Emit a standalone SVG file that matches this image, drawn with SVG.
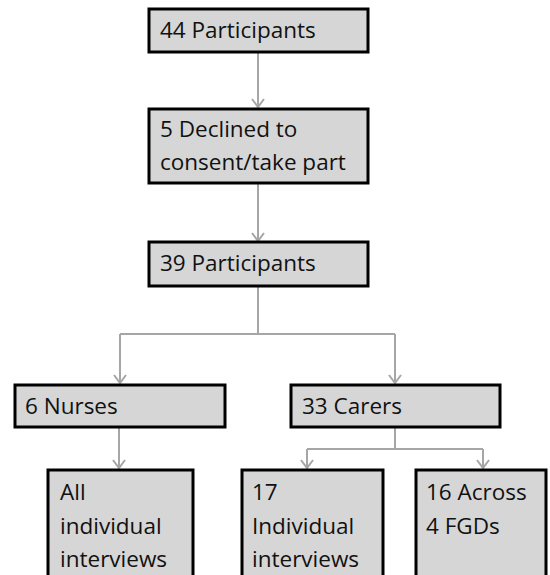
<svg xmlns="http://www.w3.org/2000/svg" width="550" height="575" viewBox="0 0 550 575">
<style>
.box{fill:#d6d6d6;stroke:#000;stroke-width:3}
.t{font-family:"Open Sans","Noto Sans",sans-serif;font-size:22.5px;fill:#111}
.c{fill:none;stroke:#a6a6a6;stroke-width:2}
</style>
<rect width="550" height="575" fill="#fff"/>
<g id="connectors" class="c">
<path d="M258,52 V107 M252,99 L258,107 L264,99"/>
<path d="M258,183 V241 M252,233 L258,241 L264,233"/>
<path d="M258,286 V334 M120,334 H395"/>
<path d="M120,334 V383 M114,375 L120,383 L126,375"/>
<path d="M395,334 V383 M389,375 L395,383 L401,375"/>
<path d="M119,427 V468 M113,460 L119,468 L125,460"/>
<path d="M395,427 V449 M307,449 H483"/>
<path d="M307,449 V468 M301,460 L307,468 L313,460"/>
<path d="M483,449 V468 M477,460 L483,468 L489,460"/>
</g>
<g id="n1"><rect class="box" x="149" y="9" width="219" height="43"/><text class="t" x="160" y="38">44 Participants</text></g>
<g id="n2"><rect class="box" x="149" y="109" width="219" height="74"/><text class="t" x="160" y="137">5 Declined to</text><text class="t" x="160" y="170">consent/take part</text></g>
<g id="n3"><rect class="box" x="149" y="242" width="219" height="44"/><text class="t" x="160" y="271">39 Participants</text></g>
<g id="n4"><rect class="box" x="15" y="385" width="210" height="42"/><text class="t" x="25" y="414">6 Nurses</text></g>
<g id="n5"><rect class="box" x="291" y="385" width="209" height="42"/><text class="t" x="302" y="414">33 Carers</text></g>
<g id="n6"><rect class="box" x="48" y="470" width="145" height="120"/><text class="t" x="60" y="500">All</text><text class="t" x="60" y="534">individual</text><text class="t" x="60" y="567">interviews</text></g>
<g id="n7"><rect class="box" x="242" y="470" width="141" height="120"/><text class="t" x="252" y="500">17</text><text class="t" x="252" y="534">Individual</text><text class="t" x="252" y="567">interviews</text></g>
<g id="n8"><rect class="box" x="416" y="470" width="130" height="120"/><text class="t" x="426" y="500">16 Across</text><text class="t" x="426" y="534">4 FGDs</text></g>
</svg>
